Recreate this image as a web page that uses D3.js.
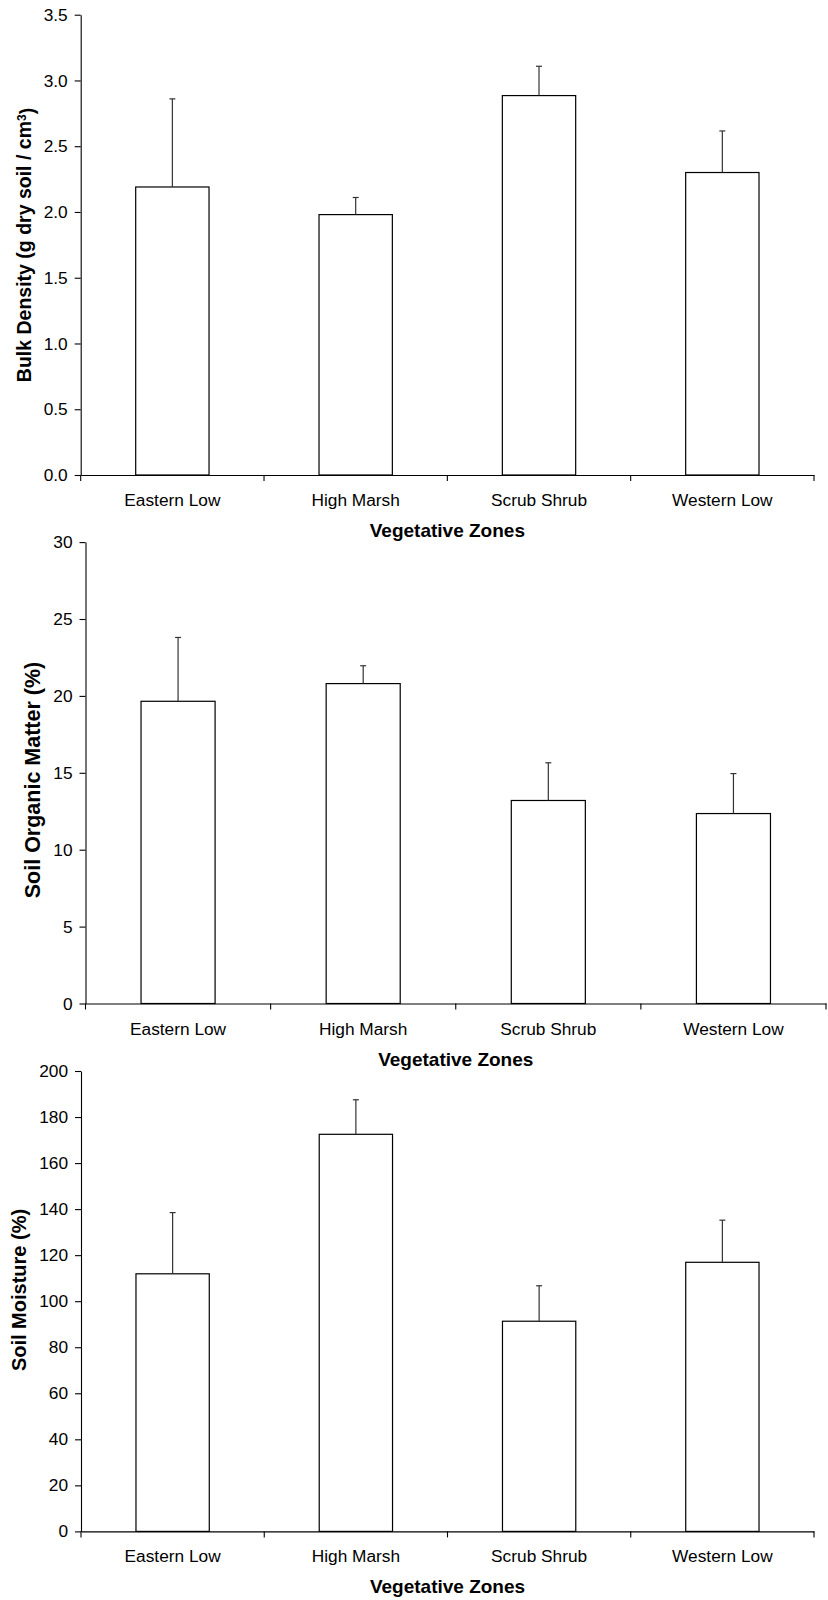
<!DOCTYPE html>
<html>
<head>
<meta charset="utf-8">
<script src="https://cdn.jsdelivr.net/npm/d3@7/dist/d3.min.js"></script>
<style>
  html, body { margin: 0; padding: 0; background: #fff; }
  svg { display: block; }
  text { font-family: Arial, "Liberation Sans", sans-serif; fill: #000; }
</style>
</head>
<body>
<svg id="chart" width="828" height="1600"></svg>
<script>
// ---------- data ----------
const zones = ["Eastern Low", "High Marsh", "Scrub Shrub", "Western Low"];

const bulkDensity    = [2.19, 1.98, 2.885, 2.30];
const bulkDensityErr = [0.67, 0.13, 0.223, 0.316];
const bulkTicks      = [0, 0.5, 1.0, 1.5, 2.0, 2.5, 3.0, 3.5];

const organicMatter    = [19.65, 20.8, 13.2, 12.35];
const organicMatterErr = [4.15, 1.16, 2.45, 2.6];
const organicTicks     = [0, 5, 10, 15, 20, 25, 30];

const soilMoisture    = [111.9, 172.5, 91.3, 116.9];
const soilMoistureErr = [26.6, 15.0, 15.4, 18.3];
const moistureTicks   = [0, 20, 40, 60, 80, 100, 120, 140, 160, 180, 200];

const xTitle = "Vegetative Zones";

// ---------- drawing ----------
const svg = d3.select("#chart");

function drawPanel(cfg) {
  const g = svg.append("g");
  const x = d3.scaleBand().domain(zones).range([cfg.x0, cfg.x1]).padding(0);
  const y = d3.scaleLinear().domain([0, cfg.max]).range([cfg.y0, cfg.yTop]);
  const barW = x.bandwidth() * 0.4;

  // bars
  g.selectAll("rect.bar").data(cfg.values).join("rect")
    .attr("class", "bar")
    .attr("x", (d, i) => x(zones[i]) + (x.bandwidth() - barW) / 2)
    .attr("y", d => y(d))
    .attr("width", barW)
    .attr("height", d => y(0) - y(d))
    .attr("fill", "#fff")
    .attr("stroke", "#000")
    .attr("stroke-width", 1.2);

  // error bars (upper only)
  const eb = g.selectAll("g.err").data(cfg.values).join("g").attr("class", "err");
  eb.append("line")
    .attr("x1", (d, i) => x(zones[i]) + x.bandwidth() / 2)
    .attr("x2", (d, i) => x(zones[i]) + x.bandwidth() / 2)
    .attr("y1", d => y(d))
    .attr("y2", (d, i) => y(d + cfg.errors[i]))
    .attr("stroke", "#333").attr("stroke-width", 1.2);
  eb.append("line")
    .attr("x1", (d, i) => x(zones[i]) + x.bandwidth() / 2 - 3)
    .attr("x2", (d, i) => x(zones[i]) + x.bandwidth() / 2 + 3)
    .attr("y1", (d, i) => y(d + cfg.errors[i]))
    .attr("y2", (d, i) => y(d + cfg.errors[i]))
    .attr("stroke", "#333").attr("stroke-width", 1.2);

  // y axis
  const ya = g.append("g")
    .attr("transform", `translate(${cfg.x0},0)`)
    .call(d3.axisLeft(y).tickValues(cfg.ticks).tickFormat(cfg.fmt)
      .tickSize(6).tickSizeOuter(0).tickPadding(7));
  ya.select(".domain").attr("stroke", "#000").attr("stroke-width", 1.1);
  ya.selectAll(".tick line").attr("stroke", "#000").attr("stroke-width", 1.1);
  ya.selectAll(".tick text").attr("font-size", cfg.tickFs).attr("font-family", null);

  // x axis line + category labels (baseline 31px below axis)
  const xa = g.append("g")
    .attr("transform", `translate(0,${cfg.y0})`)
    .call(d3.axisBottom(x).tickSize(0).tickPadding(0));
  xa.select(".domain").attr("stroke", "#000").attr("stroke-width", 1.1);
  xa.selectAll(".tick text")
    .attr("font-size", cfg.tickFs).attr("font-family", null)
    .attr("dy", null).attr("y", cfg.labelBase);
  const edges = zones.map(z => x(z)).concat([x.range()[1]]);
  xa.selectAll("line.edge").data(edges).join("line")
    .attr("class", "edge")
    .attr("x1", d => d).attr("x2", d => d)
    .attr("y1", 0).attr("y2", 6)
    .attr("stroke", "#000").attr("stroke-width", 1.1);

  // x title
  g.append("text")
    .attr("x", (cfg.x0 + cfg.x1) / 2)
    .attr("y", cfg.y0 + cfg.titleBase)
    .attr("text-anchor", "middle")
    .attr("font-weight", "bold")
    .attr("font-size", cfg.titleFs)
    .text(xTitle);

  // y title
  const yt = g.append("text")
    .attr("transform", `translate(${cfg.yTitleX},${cfg.yTitleY}) rotate(-90)`)
    .attr("text-anchor", "middle")
    .attr("font-weight", "bold")
    .attr("font-size", cfg.yTitleFs);
  cfg.yTitle(yt);
}

drawPanel({
  values: bulkDensity, errors: bulkDensityErr, ticks: bulkTicks, max: 3.5,
  fmt: d3.format(".1f"),
  x0: 80.7, x1: 814, yTop: 14.7, y0: 475,
  tickFs: 17.3, labelBase: 31, titleBase: 62, titleFs: 19,
  yTitleX: 31, yTitleY: 245, yTitleFs: 19.5,
  yTitle: t => {
    t.append("tspan").text("Bulk Density (g dry soil / cm");
    t.append("tspan").attr("dy", "-0.45em").attr("font-size", "12px").text("3");
    t.append("tspan").attr("dy", "0.45em").text(")");
  }
});

drawPanel({
  values: organicMatter, errors: organicMatterErr, ticks: organicTicks, max: 30,
  fmt: d3.format("d"),
  x0: 85.5, x1: 826, yTop: 542.1, y0: 1003.5,
  tickFs: 17.3, labelBase: 31, titleBase: 62, titleFs: 19,
  yTitleX: 39.5, yTitleY: 780, yTitleFs: 21.5,
  yTitle: t => t.text("Soil Organic Matter (%)")
});

drawPanel({
  values: soilMoisture, errors: soilMoistureErr, ticks: moistureTicks, max: 200,
  fmt: d3.format("d"),
  x0: 81, x1: 814, yTop: 1071, y0: 1531.4,
  tickFs: 17.3, labelBase: 31, titleBase: 62, titleFs: 19,
  yTitleX: 26, yTitleY: 1290, yTitleFs: 20,
  yTitle: t => t.text("Soil Moisture (%)")
});
</script>
</body>
</html>
